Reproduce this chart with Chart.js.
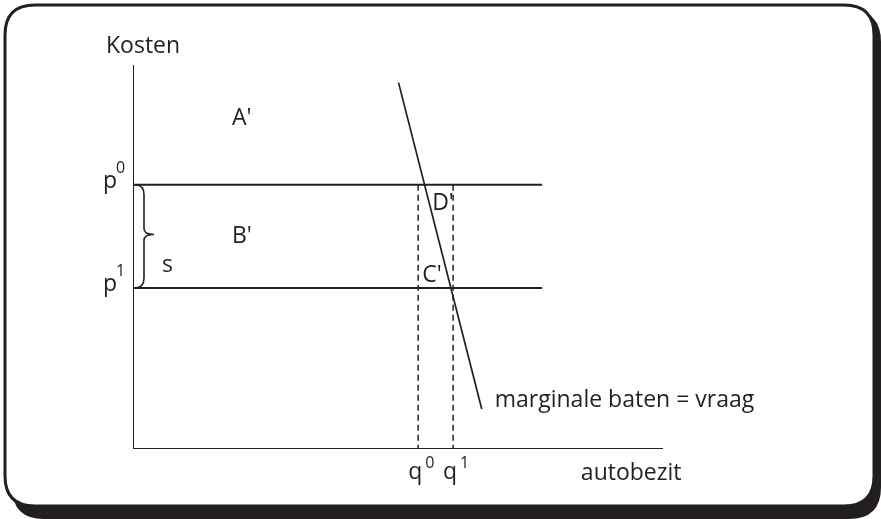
<!DOCTYPE html>
<html>
<head>
<meta charset="utf-8">
<script src="https://cdn.jsdelivr.net/npm/chart.js@4"></script>
<style>
  html, body { margin: 0; padding: 0; background: #ffffff; }
  #c { display: block; }
</style>
</head>
<body>
<canvas id="c" width="881" height="519"></canvas>
<script>
// ---- data (model units: both axes 0..100) ----
const axisLabels = ['Kosten', 'autobezit'];
const priceLevels = [68.8, 41.9];          // p0, p1
const priceLabels = ['p', 'p'];
const priceSup = ['0', '1'];
const priceLineEnd = 77.2;
const quantities = [53.8, 60.4];           // q0, q1
const quantityLabels = ['q', 'q'];
const quantitySup = ['0', '1'];
const demandX = [50.1, 65.8];
const demandY = [95.4, 10.4];
const demandLabel = 'marginale baten = vraag';
const areaLabels = ["A'", "B'", "C'", "D'"];
const subsidyLabel = 's';

const INK = '#231f20';
const FONT = '"Open Sans", "DejaVu Sans", sans-serif';

function rr(ctx, x, y, w, h, r) {
  ctx.beginPath();
  ctx.moveTo(x + r, y);
  ctx.lineTo(x + w - r, y);
  ctx.quadraticCurveTo(x + w, y, x + w, y + r);
  ctx.lineTo(x + w, y + h - r);
  ctx.quadraticCurveTo(x + w, y + h, x + w - r, y + h);
  ctx.lineTo(x + r, y + h);
  ctx.quadraticCurveTo(x, y + h, x, y + h - r);
  ctx.lineTo(x, y + r);
  ctx.quadraticCurveTo(x, y, x + r, y);
  ctx.closePath();
}

const framePlugin = {
  id: 'frame',
  beforeDraw(chart) {
    const ctx = chart.ctx;
    ctx.save();
    ctx.fillStyle = '#ffffff';
    ctx.fillRect(0, 0, chart.width, chart.height);
    rr(ctx, 12, 10, 869, 509, 32);
    ctx.fillStyle = INK;
    ctx.fill();
    rr(ctx, 5, 5, 869, 501, 30);
    ctx.fillStyle = '#ffffff';
    ctx.fill();
    ctx.lineWidth = 3;
    ctx.strokeStyle = INK;
    ctx.stroke();
    ctx.restore();
  }
};

const labelPlugin = {
  id: 'labels',
  afterDatasetsDraw(chart) {
    const ctx = chart.ctx;
    const xs = chart.scales.x, ys = chart.scales.y;
    const X = v => xs.getPixelForValue(v);
    const Y = v => ys.getPixelForValue(v);
    ctx.save();
    ctx.fillStyle = INK;
    ctx.textAlign = 'left';
    ctx.textBaseline = 'alphabetic';
    const big = '23px ' + FONT, sup = '16px ' + FONT;
    function t(s, x, y, f) { ctx.font = f || big; ctx.fillText(s, x, y); }

    // axis titles
    t(axisLabels[0], X(0) - 27, Y(100) - 12);
    t(axisLabels[1], X(84.5), Y(0) + 31);

    // price labels
    priceLevels.forEach((p, i) => {
      t(priceLabels[i], X(0) - 30, Y(p) + 3);
      t(priceSup[i], X(0) - 17, Y(p) - 12, sup);
    });
    // quantity labels
    quantities.forEach((q, i) => {
      t(quantityLabels[i], X(q) - 10, Y(0) + 30);
      t(quantitySup[i], X(q) + 7, Y(0) + 19, sup);
    });

    // area labels
    t(areaLabels[0], 232, Y(priceLevels[0]) - 60);
    t(areaLabels[1], 232, Y(priceLevels[0]) + 58);
    t(areaLabels[2], X(quantities[0]) + 4, Y(priceLevels[1]) - 6);
    t(areaLabels[3], X(quantities[0]) + 14, Y(priceLevels[0]) + 25);
    t(subsidyLabel, 162, Y(priceLevels[1]) - 16);

    // demand label
    t(demandLabel, X(demandX[1]) + 13, Y(demandY[1]) - 2);

    // curly brace for s
    const x0 = X(0) + 2, y0 = Y(priceLevels[0]), y1 = Y(priceLevels[1]);
    const xm = x0 + 9, ym = (y0 + y1) / 2 - 2, tip = x0 + 19;
    ctx.strokeStyle = INK;
    ctx.lineWidth = 1.6;
    ctx.beginPath();
    ctx.moveTo(x0, y0);
    ctx.quadraticCurveTo(xm, y0, xm, y0 + 10);
    ctx.lineTo(xm, ym - 6);
    ctx.quadraticCurveTo(xm, ym, tip, ym);
    ctx.quadraticCurveTo(xm, ym, xm, ym + 6);
    ctx.lineTo(xm, y1 - 10);
    ctx.quadraticCurveTo(xm, y1, x0, y1);
    ctx.stroke();
    ctx.restore();
  }
};

const solid = (data, w) => ({
  data, showLine: true, borderColor: INK, borderWidth: w || 2,
  pointRadius: 0, fill: false, tension: 0
});
const dashed = (data) => ({
  data, showLine: true, borderColor: INK, borderWidth: 1.5,
  borderDash: [6, 4], pointRadius: 0, fill: false, tension: 0
});

const datasets = [
  solid([{x: 0, y: 0}, {x: 0, y: 100}]),
  solid([{x: 0, y: 0}, {x: 100, y: 0}]),
  ...priceLevels.map(p => solid([{x: 0, y: p}, {x: priceLineEnd, y: p}])),
  ...quantities.map(q => dashed([{x: q, y: priceLevels[0]}, {x: q, y: 0}])),
  solid([{x: demandX[0], y: demandY[0]}, {x: demandX[1], y: demandY[1]}], 1.7)
];

new Chart(document.getElementById('c'), {
  type: 'scatter',
  data: { datasets },
  options: {
    responsive: false,
    devicePixelRatio: 1,
    animation: false,
    layout: { padding: { left: 133, right: 218, top: 65, bottom: 70 } },
    plugins: { legend: { display: false }, tooltip: { enabled: false } },
    scales: {
      x: { type: 'linear', min: 0, max: 100, display: false },
      y: { type: 'linear', min: 0, max: 100, display: false }
    }
  },
  plugins: [framePlugin, labelPlugin]
});
</script>
</body>
</html>
